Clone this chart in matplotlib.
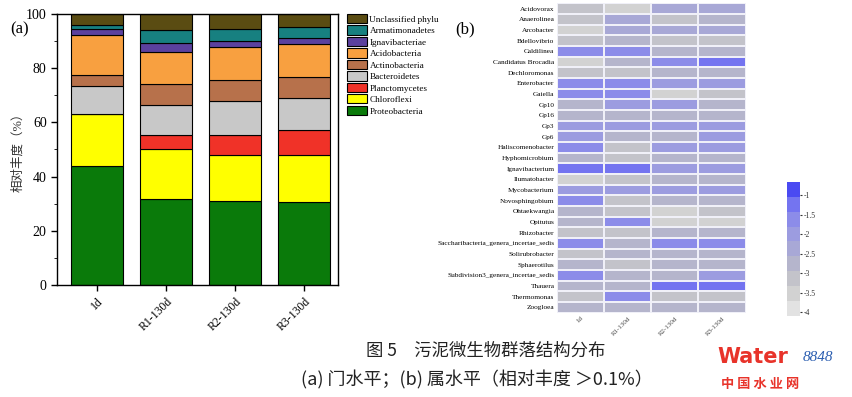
import matplotlib
matplotlib.use('Agg')
import matplotlib.pyplot as plt
import numpy as np
from matplotlib.colors import LinearSegmentedColormap
from matplotlib.ticker import MultipleLocator

plt.rcParams['font.family'] = ['Liberation Serif', 'Noto Sans CJK SC', 'DejaVu Sans']

# ---- (a) phylum level ----
samples = ['1d', 'R1-130d', 'R2-130d', 'R3-130d']
phyla = ['Proteobacteria', 'Chloroflexi', 'Planctomycetes', 'Bacteroidetes',
         'Actinobacteria', 'Acidobacteria', 'Ignavibacteriae', 'Armatimonadetes',
         'Unclassified phylu']
proteobacteria = [44.0, 31.7, 30.9, 30.8]
chloroflexi = [19.2, 18.5, 16.9, 17.0]
planctomycetes = [0.0, 5.2, 7.4, 9.5]
bacteroidetes = [10.2, 10.9, 12.5, 11.5]
actinobacteria = [4.2, 7.9, 7.8, 8.1]
acidobacteria = [14.5, 11.8, 12.2, 11.9]
ignavibacteriae = [2.2, 3.2, 2.2, 2.3]
armatimonadetes = [1.6, 4.7, 4.4, 4.2]
unclassified = [4.1, 6.1, 5.7, 4.7]
phylum_colors = ['#0a7a0a', '#ffff00', '#f03228', '#c8c8c8', '#b7714b',
                 '#f8a040', '#5b419e', '#178080', '#5a4c12']

# ---- (b) genus level, log10 relative abundance ----
genera = ['Acidovorax', 'Anaerolinea', 'Arcobacter', 'Bdellovibrio', 'Caldilinea',
          'Candidatus Brocadia', 'Dechloromonas', 'Enterobacter', 'Gaiella', 'Gp10',
          'Gp16', 'Gp3', 'Gp6', 'Haliscomenobacter', 'Hyphomicrobium', 'Ignavibacterium',
          'Ilumatobacter', 'Mycobacterium', 'Novosphingobium', 'Ohtaekwangia', 'Opitutus',
          'Rhizobacter', 'Saccharibacteria_genera_incertae_sedis', 'Solirubrobacter',
          'Sphaerotilus', 'Subdivision3_genera_incertae_sedis', 'Thauera', 'Thermomonas',
          'Zoogloea']
log_abund = [
    [-3.2, -3.7, -2.3, -2.3],
    [-3.2, -2.4, -3.1, -2.6],
    [-3.7, -2.4, -2.4, -2.4],
    [-3.2, -2.6, -3.1, -3.1],
    [-1.8, -1.8, -2.6, -2.6],
    [-3.7, -2.8, -1.8, -1.3],
    [-3.2, -3.2, -2.7, -2.7],
    [-1.8, -1.8, -1.9, -1.9],
    [-1.8, -1.8, -3.7, -3.2],
    [-2.6, -1.9, -1.9, -2.6],
    [-2.6, -2.6, -2.6, -2.6],
    [-1.9, -1.9, -1.9, -1.9],
    [-1.9, -2.7, -2.7, -1.9],
    [-1.8, -3.0, -1.9, -1.9],
    [-2.6, -3.1, -2.6, -2.6],
    [-1.3, -1.3, -1.9, -1.9],
    [-3.7, -3.2, -2.6, -2.6],
    [-1.9, -1.9, -1.9, -1.9],
    [-1.8, -3.1, -2.6, -2.6],
    [-2.6, -3.1, -3.7, -3.2],
    [-2.6, -1.8, -3.7, -3.7],
    [-3.1, -3.1, -2.6, -2.6],
    [-1.8, -2.6, -1.8, -1.8],
    [-3.1, -2.6, -2.6, -2.6],
    [-2.6, -3.1, -2.6, -2.6],
    [-1.8, -2.6, -2.6, -1.9],
    [-2.6, -2.6, -1.2, -1.2],
    [-3.1, -1.8, -3.1, -3.1],
    [-2.6, -2.6, -2.6, -2.6],
]

fig = plt.figure(figsize=(8.52, 3.97), dpi=100)

# stacked bars
ax = fig.add_axes([0.067, 0.282, 0.330, 0.683])
series = [proteobacteria, chloroflexi, planctomycetes, bacteroidetes, actinobacteria,
          acidobacteria, ignavibacteriae, armatimonadetes, unclassified]
x = np.arange(len(samples))
bottom = np.zeros(len(samples))
handles = []
for name, vals, c in zip(phyla, series, phylum_colors):
    h = ax.bar(x, vals, 0.75, bottom=bottom, color=c, edgecolor='black', linewidth=0.8, label=name)
    handles.append(h)
    bottom += np.array(vals)
ax.set_xlim(-0.58, 3.49)
ax.set_ylim(0, 100)
ax.yaxis.set_major_locator(MultipleLocator(20))
ax.yaxis.set_minor_locator(MultipleLocator(10))
ax.tick_params(axis='y', labelsize=10, direction='out', width=1, length=4)
ax.tick_params(axis='y', which='minor', length=2.5)
ax.set_xticks(x)
ax.set_xticklabels(samples, rotation=45, fontsize=8.5, ha='right', rotation_mode='anchor')
ax.tick_params(axis='x', length=4, width=1)
for s in ax.spines.values():
    s.set_linewidth(1.0)
ax.set_ylabel('相对丰度（%）', fontsize=9, color='#333333', labelpad=1)
fig.text(0.012, 0.915, '(a)', fontsize=12)
leg = ax.legend(handles[::-1], phyla[::-1], loc='upper left', bbox_to_anchor=(1.01, 1.02),
                frameon=False, fontsize=6.6, handlelength=2.2, handleheight=1.15,
                labelspacing=0.2, handletextpad=0.3, borderaxespad=0.2)

# heatmap
cmap = LinearSegmentedColormap.from_list('gb', [
    (0.00, '#e2e2e2'), (0.20, '#c9c9c9'), (0.38, '#b4b4cc'), (0.52, '#a6a6d8'),
    (0.68, '#9696e4'), (0.84, '#8080ef'), (1.00, '#4a4af2')]).resampled(9)
hx = fig.add_axes([0.654, 0.212, 0.221, 0.780])
data = np.array(log_abund)
mesh = hx.pcolormesh(data, cmap=cmap, vmin=-4.1, vmax=-0.65, edgecolors='#f0f0f8', linewidth=0.15)
hx.set_ylim(len(genera), 0)
hx.set_yticks(np.arange(len(genera)) + 0.5)
hx.set_yticklabels(genera, fontsize=5.2)
hx.set_xticks(np.arange(len(samples)) + 0.5)
hx.set_xticklabels(samples, rotation=45, fontsize=5, ha='right', rotation_mode='anchor', color='#444444')
hx.tick_params(length=0, pad=2)
for s in hx.spines.values():
    s.set_visible(False)
fig.text(0.534, 0.915, '(b)', fontsize=12)

cax = fig.add_axes([0.924, 0.204, 0.015, 0.338])
cb = fig.colorbar(mesh, cax=cax, ticks=[-4, -3.5, -3, -2.5, -2, -1.5, -1])
cb.ax.set_yticklabels(['-4', '-3.5', '-3', '-2.5', '-2', '-1.5', '-1'])
cb.ax.tick_params(labelsize=5.5, length=1.5, pad=1, colors='#333333')
cb.outline.set_visible(False)

# caption
fig.text(0.570, 0.105, '图 5　污泥微生物群落结构分布', fontsize=12.5, ha='center',
         family=['Noto Sans CJK SC', 'DejaVu Sans'], color='#222222')
fig.text(0.560, 0.028, '(a) 门水平；(b) 属水平（相对丰度 ＞0.1%）', fontsize=13, ha='center',
         family=['Noto Sans CJK SC', 'DejaVu Sans'], color='#222222')

# watermark
fig.text(0.842, 0.085, 'Water', fontsize=15, fontweight='bold', color='#e8332a', family='DejaVu Sans')
fig.text(0.942, 0.09, '8848', fontsize=11, style='italic', color='#2a5db0')
fig.text(0.846, 0.022, '中 国 水 业 网', fontsize=9.5, fontweight='bold', color='#e8332a',
         family=['Noto Sans CJK SC', 'DejaVu Sans'])

fig.savefig('out.png', dpi=100)
